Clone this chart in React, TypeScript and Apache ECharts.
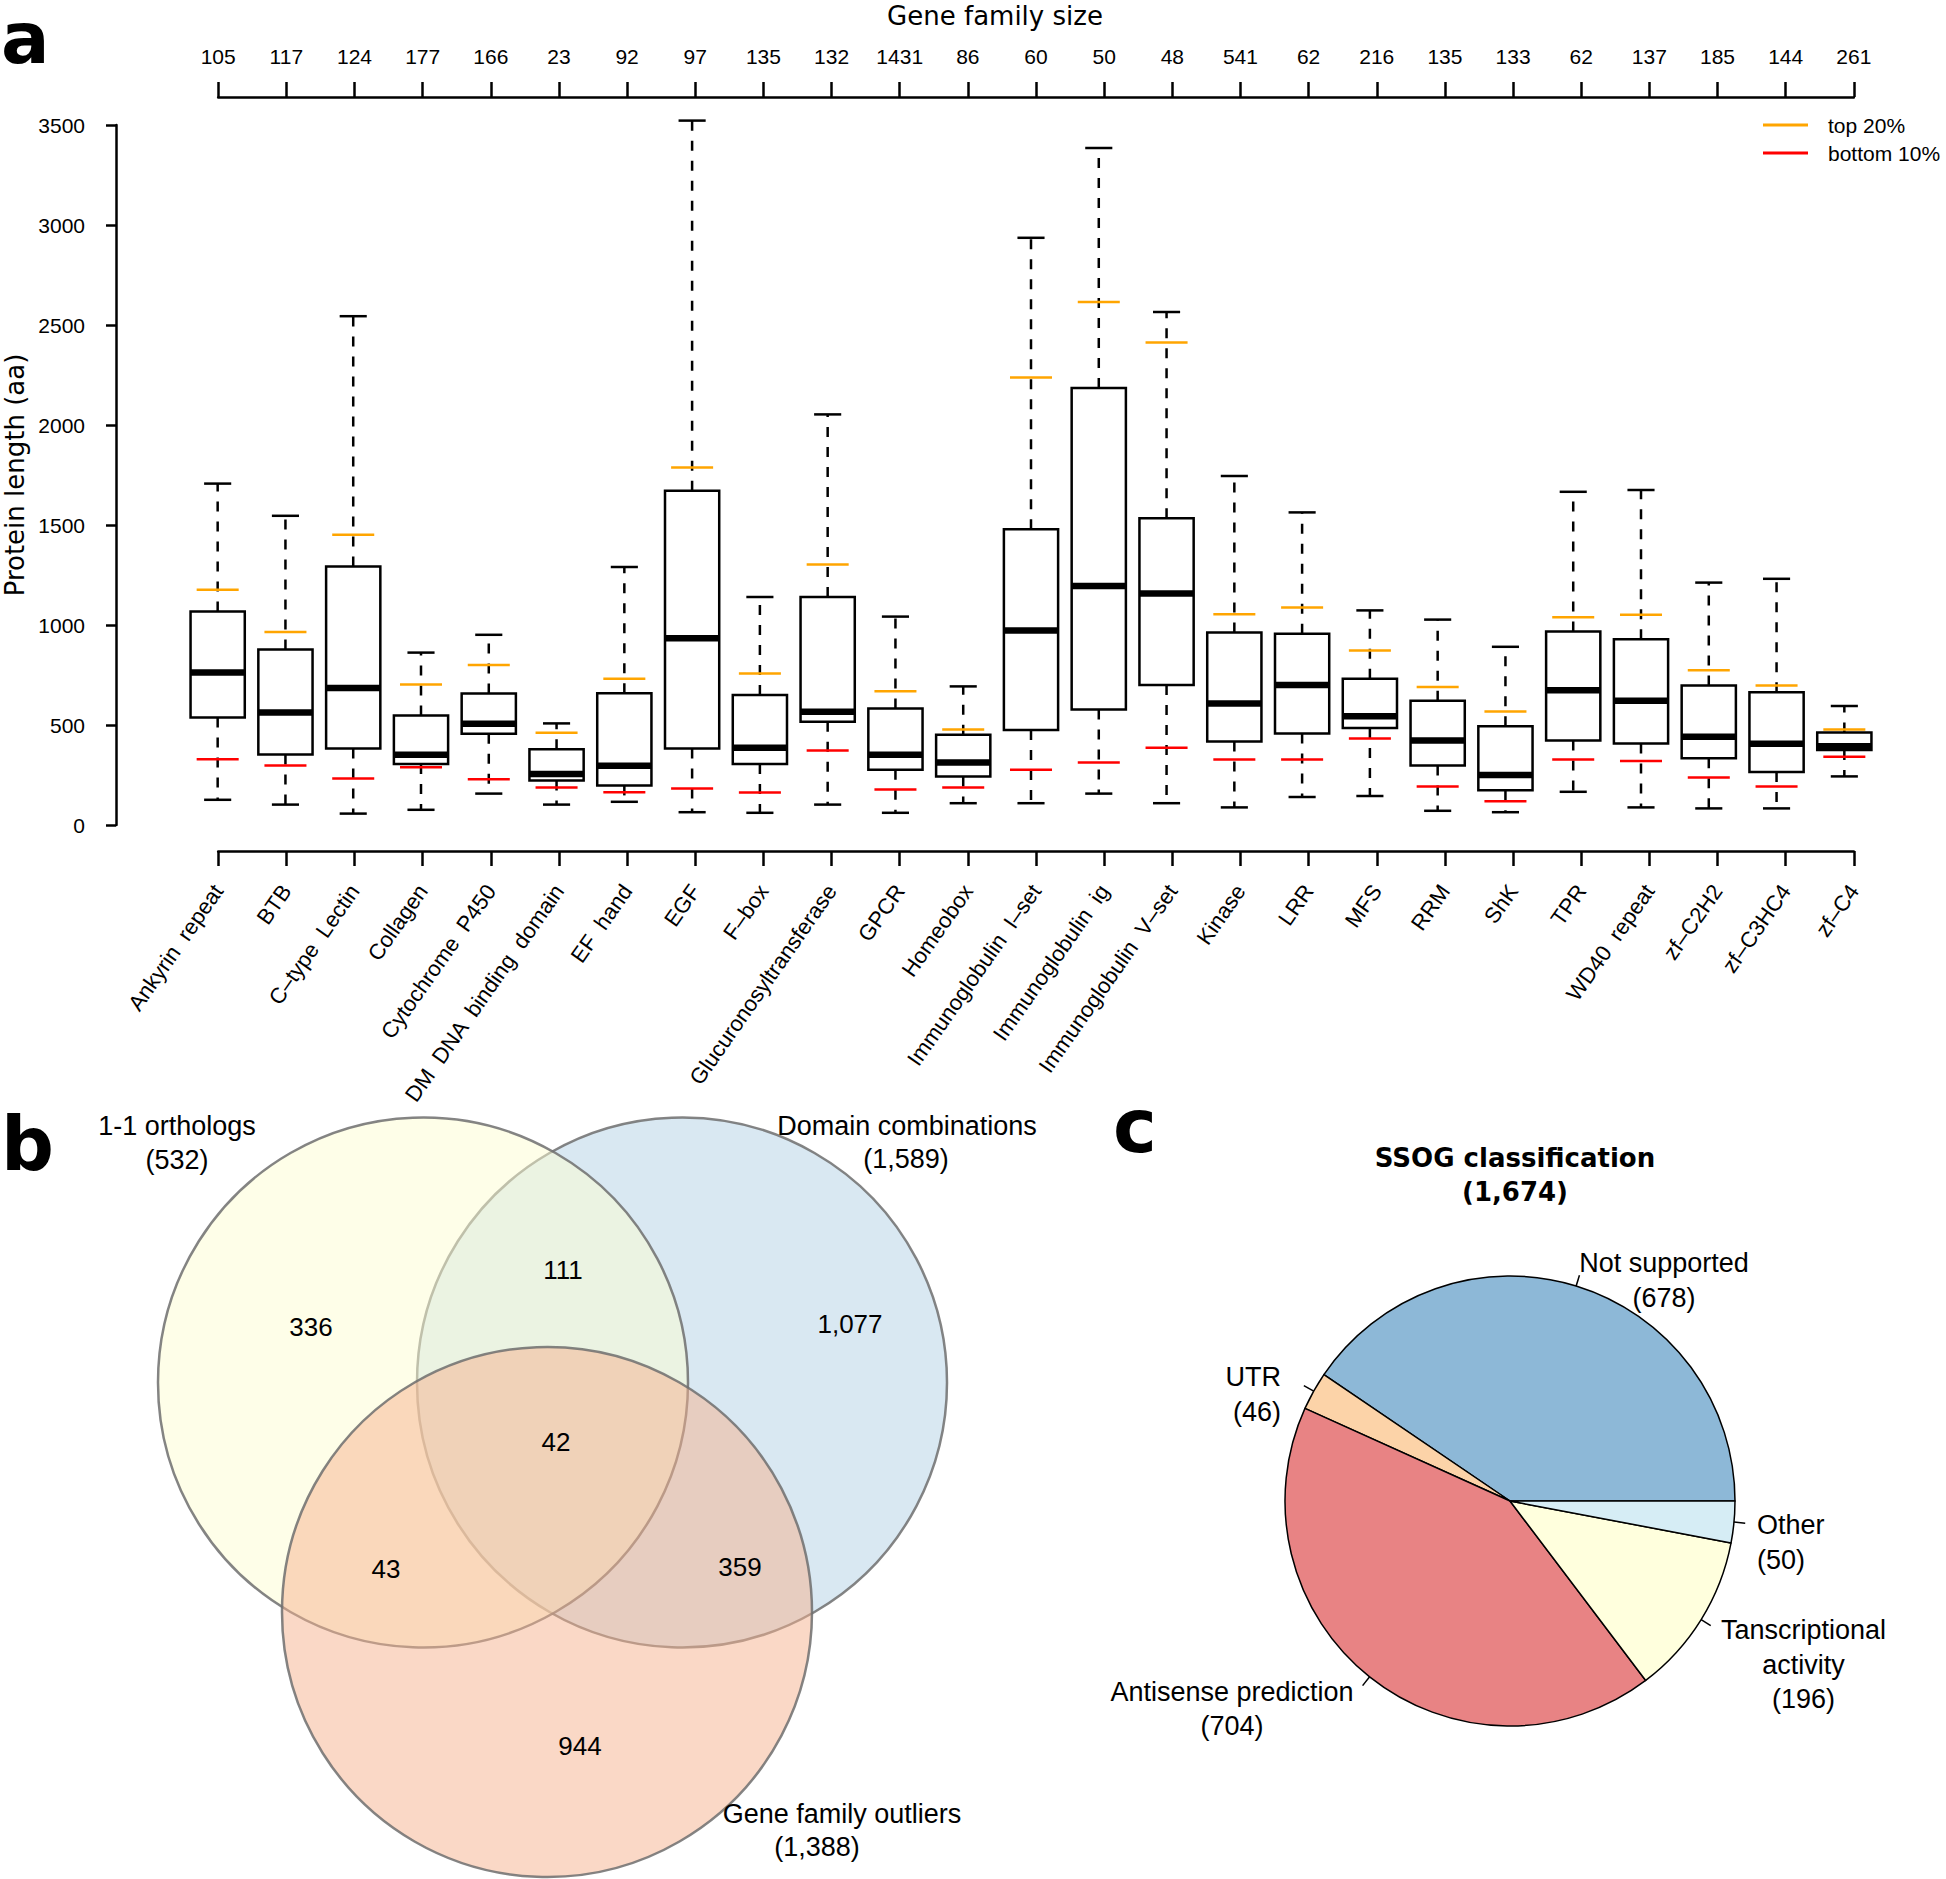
import React, { useEffect, useRef } from 'react';
import * as echarts from 'echarts';

// ---------- Panel a: box plot data ----------
const categories = [
  'Ankyrin  repeat', 'BTB', 'C–type  Lectin', 'Collagen', 'Cytochrome  P450',
  'DM  DNA  binding  domain', 'EF  hand', 'EGF', 'F–box', 'Glucuronosyltransferase',
  'GPCR', 'Homeobox', 'Immunoglobulin  I–set', 'Immunoglobulin  ig', 'Immunoglobulin  V–set',
  'Kinase', 'LRR', 'MFS', 'RRM', 'ShK', 'TPR', 'WD40  repeat', 'zf–C2H2', 'zf–C3HC4', 'zf–C4',
];
const familySizes = [105, 117, 124, 177, 166, 23, 92, 97, 135, 132, 1431, 86, 60, 50, 48, 541, 62, 216, 135, 133, 62, 137, 185, 144, 261];
const whiskerLow = [126, 102, 57, 76, 157, 102, 116, 64, 61, 102, 61, 109, 109, 157, 109, 88, 140, 145, 71, 64, 166, 88, 83, 83, 243];
const quartile1 = [537, 353, 382, 305, 456, 222, 198, 382, 305, 516, 276, 243, 475, 578, 700, 418, 458, 485, 298, 174, 422, 408, 334, 265, 375];
const medians = [762, 563, 685, 351, 506, 255, 296, 934, 386, 566, 351, 312, 972, 1195, 1157, 607, 700, 544, 422, 250, 674, 621, 441, 406, 394];
const quartile3 = [1068, 877, 1293, 547, 657, 379, 659, 1671, 650, 1140, 583, 451, 1479, 2185, 1534, 963, 956, 731, 621, 494, 968, 929, 697, 664, 463];
const whiskerHigh = [1707, 1546, 2544, 862, 951, 508, 1290, 3522, 1140, 2053, 1042, 693, 2936, 3385, 2565, 1745, 1563, 1073, 1027, 891, 1666, 1675, 1212, 1231, 595];
const top20 = [1176, 965, 1451, 702, 800, 461, 731, 1788, 757, 1302, 669, 477, 2238, 2615, 2412, 1054, 1087, 872, 690, 568, 1039, 1051, 774, 697, 477];
const bottom10 = [329, 298, 233, 289, 229, 188, 164, 183, 162, 372, 178, 188, 276, 312, 386, 327, 327, 432, 193, 119, 327, 320, 238, 193, 341];
const yMin = 0;
const yMax = 3500;
const yStep = 500;
const legendNames = ['top 20%', 'bottom 10%'];

// ---------- Panel b: Venn data ----------
const vennSetNames = ['1-1 orthologs', 'Domain combinations', 'Gene family outliers'];
const vennSetTotals = [532, 1589, 1388];
const vennRegionCounts = [336, 111, 1077, 42, 43, 359, 944]; // A, AB, B, ABC, AC, BC, C

// ---------- Panel c: pie data ----------
const pieTitle = 'SSOG classification';
const pieNames = ['Not supported', 'UTR', 'Antisense prediction', 'Tanscriptional\nactivity', 'Other'];
const pieValues = [678, 46, 704, 196, 50];
const pieColors = ['#8DB8D7', '#FCD3A8', '#E88384', '#FFFFDD', '#D6EDF5'];

const SANS = "'Liberation Sans', Arial, Helvetica, sans-serif";
const DEJA = "'DejaVu Sans', Verdana, sans-serif";
const fmt = (n: number) => n.toLocaleString('en-US');

function txt(text: string, x: number, y: number, fontSize: number, opts: any = {}) {
  const align = opts.align || 'center';
  const valign = opts.valign || 'middle';
  return {
    type: 'text',
    x,
    y,
    rotation: opts.rotation || 0,
    silent: true,
    z: 10,
    style: {
      text,
      x: 0,
      y: 0,
      fill: '#000',
      fontSize,
      fontFamily: opts.family || SANS,
      fontWeight: opts.weight || 'normal',
      lineHeight: opts.lineHeight,
      align,
      verticalAlign: valign,
      textAlign: align,
      textVerticalAlign: valign,
    },
  };
}

function line(x1: number, y1: number, x2: number, y2: number, stroke: string, lineWidth: number) {
  return { type: 'line', silent: true, z: 10, shape: { x1, y1, x2, y2 }, style: { stroke, lineWidth } };
}

export default function App() {
  const ref = useRef<HTMLDivElement>(null);

  useEffect(() => {
    if (!ref.current) return;
    const chart = echarts.init(ref.current, undefined, { renderer: 'svg' });

    const boxData = categories.map((_, i) => [
      i + 1, whiskerLow[i], quartile1[i], medians[i], quartile3[i], whiskerHigh[i], top20[i], bottom10[i],
    ]);

    // ---- Venn graphics ----
    const vennCircles = [
      { cx: 423, cy: 1382.5, fill: 'rgba(253,253,209,0.5)', z: 3 },
      { cx: 682, cy: 1382.5, fill: 'rgba(179,209,229,0.5)', z: 2 },
      { cx: 547, cy: 1612, fill: 'rgba(245,177,141,0.5)', z: 4 },
    ];
    const vennR = 265;
    const vennGraphics: any[] = vennCircles.map((c) => ({
      type: 'circle',
      silent: true,
      z: c.z,
      shape: { cx: c.cx, cy: c.cy, r: vennR },
      style: { fill: c.fill, stroke: 'rgba(110,110,110,0.85)', lineWidth: 2.5 },
    }));
    const regionPos = [
      [311, 1327], [563, 1270], [850, 1324], [556, 1442], [386, 1569], [740, 1567], [580, 1746],
    ];
    vennRegionCounts.forEach((v, i) => {
      vennGraphics.push(txt(fmt(v), regionPos[i][0], regionPos[i][1], 26));
    });
    const setLabelPos = [
      [[177, 1126], [177, 1160]],
      [[907, 1126], [906, 1159]],
      [[842, 1814], [817, 1847]],
    ];
    vennSetNames.forEach((n, i) => {
      vennGraphics.push(txt(n, setLabelPos[i][0][0], setLabelPos[i][0][1], 27));
      vennGraphics.push(txt('(' + fmt(vennSetTotals[i]) + ')', setLabelPos[i][1][0], setLabelPos[i][1][1], 27));
    });

    // ---- Pie graphics ----
    const pieCx = 1510;
    const pieCy = 1501;
    const pieR = 225;
    const total = pieValues.reduce((a, b) => a + b, 0);
    const pieGraphics: any[] = [];
    let acc = 0;
    pieValues.forEach((v) => {
      const mid = ((acc + v / 2) / total) * 2 * Math.PI;
      acc += v;
      const c = Math.cos(mid);
      const s = Math.sin(mid);
      pieGraphics.push(line(pieCx + pieR * c, pieCy - pieR * s, pieCx + 1.05 * pieR * c, pieCy - 1.05 * pieR * s, '#000', 1.5));
    });
    const pieLabelLayout: any[] = [
      { x: 1664, y: 1263, align: 'center' },
      { x: 1281, y: 1377, align: 'right' },
      { x: 1232, y: 1691.5, align: 'center' },
      { x: 1803.5, y: 1630, align: 'center' },
      { x: 1757, y: 1525, align: 'left' },
    ];
    const lh = 34.5;
    pieNames.forEach((n, i) => {
      const L = pieLabelLayout[i];
      pieGraphics.push(
        txt(n + '\n(' + fmt(pieValues[i]) + ')', L.x, L.y - lh / 2, 27, { align: L.align, valign: 'top', lineHeight: lh })
      );
    });
    pieGraphics.push(txt(pieTitle, 1515, 1157.5, 26, { family: DEJA, weight: 'bold' }));
    pieGraphics.push(txt('(' + fmt(total) + ')', 1515, 1192, 26, { family: DEJA, weight: 'bold' }));

    const option: any = {
      animation: false,
      backgroundColor: '#fff',
      textStyle: { fontFamily: SANS },
      grid: [
        { left: 116, top: 125, width: 1840, height: 700 },
        { left: 218.2, top: 97, width: 1635.6, height: 754 },
      ],
      xAxis: [
        { gridIndex: 0, type: 'value', min: -0.5, max: 26.5, show: false },
        {
          gridIndex: 1,
          type: 'category',
          position: 'bottom',
          data: categories,
          boundaryGap: false,
          axisLine: { onZero: false, lineStyle: { color: '#000', width: 2.5 } },
          axisTick: { show: true, length: 15, interval: 0, lineStyle: { color: '#000', width: 2.5 } },
          axisLabel: { interval: 0, rotate: 55, margin: 36, fontSize: 22, fontFamily: SANS, color: '#000' },
          splitLine: { show: false },
        },
        {
          gridIndex: 1,
          type: 'category',
          position: 'top',
          data: familySizes.map((_, i) => 'f' + i),
          boundaryGap: false,
          axisLine: { onZero: false, lineStyle: { color: '#000', width: 2.5 } },
          axisTick: { show: true, length: 15, interval: 0, lineStyle: { color: '#000', width: 2.5 } },
          axisLabel: {
            interval: 0,
            margin: 30,
            fontSize: 21,
            fontFamily: SANS,
            color: '#000',
            formatter: (_v: string, idx: number) => String(familySizes[idx]),
          },
          splitLine: { show: false },
        },
      ],
      yAxis: [
        {
          gridIndex: 0,
          type: 'value',
          min: yMin,
          max: yMax,
          interval: yStep,
          axisLine: { show: true, onZero: false, lineStyle: { color: '#000', width: 2.5 } },
          axisTick: { show: true, length: 10, lineStyle: { color: '#000', width: 2.5 } },
          axisLabel: {
            margin: 31,
            fontSize: 21,
            fontFamily: SANS,
            color: '#000',
            formatter: (v: number) => String(v),
          },
          splitLine: { show: false },
        },
        { gridIndex: 1, type: 'value', min: 0, max: 1, show: false },
      ],
      series: [
        {
          type: 'custom',
          name: 'Protein length',
          xAxisIndex: 0,
          yAxisIndex: 0,
          clip: false,
          data: boxData,
          renderItem: (_params: any, api: any) => {
            const xv = api.value(0);
            const lo = api.value(1);
            const q1 = api.value(2);
            const med = api.value(3);
            const q3 = api.value(4);
            const hi = api.value(5);
            const t20 = api.value(6);
            const b10 = api.value(7);
            const unit = api.size([1, 0])[0];
            const x = api.coord([xv, med])[0];
            const y = (v: number) => api.coord([xv, v])[1];
            const hb = unit * 0.4;
            const hs = unit * 0.2;
            const hm = unit * 0.31;
            const L = (x1: number, y1: number, x2: number, y2: number, style: any) => ({
              type: 'line', shape: { x1, y1, x2, y2 }, style,
            });
            const dashed = { stroke: '#000', lineWidth: 2.5, lineDash: [10, 10] };
            const solid = { stroke: '#000', lineWidth: 2.5 };
            return {
              type: 'group',
              children: [
                L(x, y(q3), x, y(hi), dashed),
                L(x, y(q1), x, y(lo), dashed),
                L(x - hs, y(hi), x + hs, y(hi), solid),
                L(x - hs, y(lo), x + hs, y(lo), solid),
                {
                  type: 'rect',
                  shape: { x: x - hb, y: y(q3), width: 2 * hb, height: y(q1) - y(q3) },
                  style: { fill: '#fff', stroke: '#000', lineWidth: 2.5 },
                },
                L(x - hb, y(med), x + hb, y(med), { stroke: '#000', lineWidth: 6.5 }),
                L(x - hm, y(t20), x + hm, y(t20), { stroke: '#FFA500', lineWidth: 2.5 }),
                L(x - hm, y(b10), x + hm, y(b10), { stroke: '#FF0000', lineWidth: 2.5 }),
              ],
            };
          },
        },
        {
          type: 'pie',
          name: pieTitle,
          center: [pieCx, pieCy],
          radius: pieR,
          startAngle: 0,
          clockwise: false,
          avoidLabelOverlap: false,
          label: { show: false },
          labelLine: { show: false },
          emphasis: { disabled: true },
          itemStyle: { borderColor: '#000', borderWidth: 1.5 },
          data: pieNames.map((n, i) => ({ name: n, value: pieValues[i], itemStyle: { color: pieColors[i] } })),
        },
      ],
      graphic: [
        txt('a', 1, 38, 72, { align: 'left', family: DEJA, weight: 'bold' }),
        txt('b', 1, 1144, 74, { align: 'left', family: DEJA, weight: 'bold' }),
        txt('c', 1113, 1126, 74, { align: 'left', family: DEJA, weight: 'bold' }),
        txt('Gene family size', 995, 16, 26, { family: DEJA }),
        txt('Protein length (aa)', 15, 475, 26, { family: DEJA, rotation: Math.PI / 2 }),
        line(1763, 125, 1808, 125, '#FFA500', 3),
        line(1763, 153, 1808, 153, '#FF0000', 3),
        txt(legendNames[0], 1828, 125, 21, { align: 'left' }),
        txt(legendNames[1], 1828, 153, 21, { align: 'left' }),
        ...vennGraphics,
        ...pieGraphics,
      ],
    };

    chart.setOption(option);
    return () => chart.dispose();
  }, []);

  return (
    <div
      ref={ref}
      style={{ position: 'absolute', left: 0, top: 0, width: 1946, height: 1879, background: '#fff' }}
    />
  );
}
